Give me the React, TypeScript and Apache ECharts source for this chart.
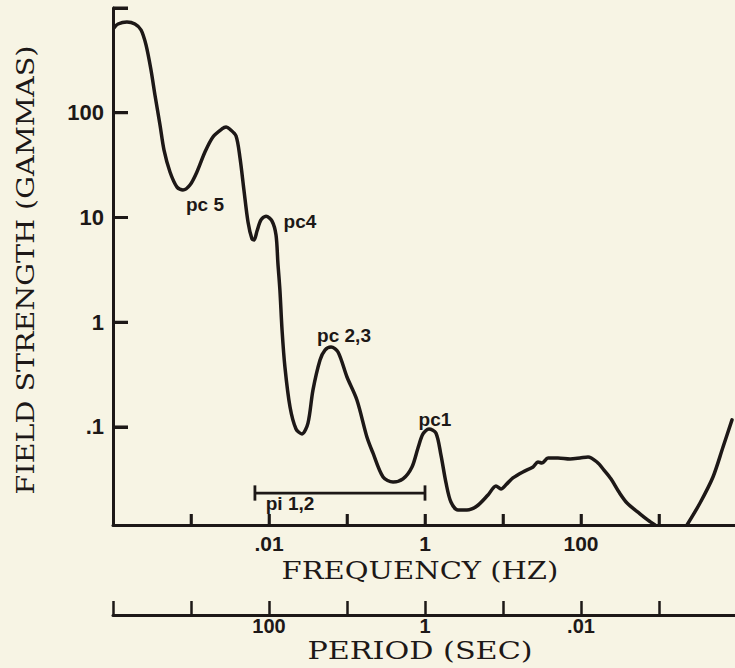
import React, { useEffect, useRef } from "react";
import * as echarts from "echarts";

// Main spectrum curve (frequency in Hz, field strength in gammas)
const freqHz = [
  1.03e-4, 1.16e-4, 1.51e-4, 1.91e-4, 2.29e-4, 2.65e-4, 3.07e-4, 3.45e-4, 4.01e-4, 4.51e-4,
  5.38e-4, 6.62e-4, 7.89e-4, 9.7e-4, 1.19e-3, 1.51e-3, 1.91e-3, 2.49e-3, 2.82e-3, 3.16e-3, 3.78e-3,
  4.25e-3, 4.77e-3, 5.38e-3, 6.05e-3, 6.43e-3, 7.02e-3, 7.89e-3, 9.16e-3, 1.09e-2, 1.23e-2,
  1.30e-2, 1.38e-2, 1.47e-2, 1.60e-2, 1.86e-2, 2.22e-2, 2.65e-2, 3.16e-2, 3.66e-2, 4.51e-2,
  5.22e-2, 6.24e-2, 7.67e-2, 0.1, 0.134, 0.18, 0.215, 0.29, 0.389, 0.522,
  0.681, 0.813, 0.942, 1.125, 1.38, 1.6, 1.86, 2.15, 2.65, 3.45,
  4.64, 6.42, 8.13, 9.42, 11.2, 13.4, 18.0, 24.3, 28.1, 31.6,
  37.8, 50.7, 72.3, 97, 123, 160, 197, 243, 307, 389,
  570, 722, 889,
];
const fieldGammas = [
  644, 703, 735, 703, 617, 444, 256, 148, 76, 44,
  27.2, 19.5, 18.3, 20.4, 27.2, 42.2, 58.7, 70, 73, 69.5, 60,
  37, 18.3, 9.06, 6.23, 6.1, 7.43, 9.47, 10.3, 9.27, 6.8,
  3.68, 2.03, 0.843, 0.374, 0.155, 0.0957, 0.0857, 0.109, 0.225, 0.436,
  0.543, 0.581, 0.52, 0.3, 0.181, 0.0803, 0.0565, 0.0333, 0.0298, 0.0319,
  0.0415, 0.063, 0.0857, 0.0957, 0.0877, 0.0541, 0.0292, 0.0192, 0.0161, 0.0161,
  0.0176, 0.0224, 0.0273, 0.0256, 0.0286, 0.0326, 0.0372, 0.0415, 0.0463, 0.0453,
  0.0506, 0.0506, 0.0495, 0.0506, 0.0518, 0.0463, 0.0388, 0.0319, 0.0239, 0.0188,
  0.0148, 0.0129, 0.0116,
];

// Rising branch at the high-frequency end
const highFreqHz = [2286, 3357, 4920, 6620, 8630];
const highFieldGammas = [0.0116, 0.0188, 0.0333, 0.0644, 0.117];

// Pi 1,2 band (frequency range) and its level
const piRangeHz = [0.0066, 1];
const piLevel = [0.0234];
const piCap = [0.0198, 0.0277];

// Annotations
const annotationText = ["pc 5", "pc4", "pc 2,3", "pc1", "pi 1,2"];
const annotationFreq = [1.51e-3, 0.0249, 0.0916, 1.34, 0.0186];
const annotationField = [13.2, 9.06, 0.74, 0.117, 0.0184];

// Axis ranges and ticks
const freqRange = [1e-4, 1e4];
const fieldRange = [0.01159, 1000];
const freqTickMarks = [1e-3, 1e-2, 0.1, 1, 10, 100, 1000];
const fieldTickMarks = [0.1, 1, 10, 100, 1000];
const fieldTickValues = [0.1, 1, 10, 100];
const fieldTickLabels = [".1", "1", "10", "100"];
const freqTickValues = [0.01, 1, 100];
const freqTickLabels = [".01", "1", "100"];
const periodTickLabels = ["100", "1", ".01"];

const INK = "#1d1817";
const BG = "#f7f4e4";
const TYPE = "'DejaVu Serif', 'Liberation Serif', serif";
const SANS = "'Liberation Sans', Arial, sans-serif";

// grid geometry (pixels)
const GRID = { left: 113, top: 8, width: 624, height: 517 };
const X_TICK_PX = 11;
const Y_TICK_PX = 15;

function pick(values: number[], labels: string[]) {
  return (v: number) => {
    for (let i = 0; i < values.length; i++) {
      if (Math.abs(Math.log10(v) - Math.log10(values[i])) < 1e-6) return labels[i];
    }
    return "";
  };
}

export default function App() {
  const ref = useRef<HTMLDivElement>(null);
  useEffect(() => {
    if (!ref.current) return;
    const chart = echarts.init(ref.current, null, { renderer: "svg" });
    const lineStyle = { color: INK, width: 3.5, cap: "round", join: "round" };

    // Tick marks drawn as filled rectangles placed through the axes' own scales
    const tickRects = {
      type: "custom",
      z: 6,
      renderItem: (params: any, api: any) => {
        const kind = api.value(2);
        const p = api.coord([api.value(0), api.value(1)]);
        if (kind === 0) {
          return {
            type: "rect",
            shape: { x: p[0] - 1.3, y: p[1] - X_TICK_PX, width: 2.6, height: X_TICK_PX },
            style: { fill: INK },
          };
        }
        return {
          type: "rect",
          shape: { x: p[0], y: p[1] - 1.5, width: Y_TICK_PX, height: 3 },
          style: { fill: INK },
        };
      },
      data: [
        ...freqTickMarks.map((f) => [f, fieldRange[0], 0]),
        ...fieldTickMarks.map((b) => [freqRange[0], b, 1]),
      ],
    };

    const option: any = {
      animation: false,
      backgroundColor: BG,
      grid: { ...GRID, outerBoundsMode: "none" },
      xAxis: [
        {
          type: "log",
          logBase: 10,
          min: freqRange[0],
          max: freqRange[1],
          splitNumber: 8,
          position: "bottom",
          axisLine: { show: true, lineStyle: { color: INK, width: 3 } },
          axisTick: { show: true, inside: true, length: X_TICK_PX, lineStyle: { color: INK, width: 2.5 } },
          axisLabel: {
            formatter: pick(freqTickValues, freqTickLabels),
            fontSize: 21,
            fontWeight: "bold",
            fontFamily: SANS,
            color: INK,
            margin: 8,
          },
          splitLine: { show: false },
        },
        {
          type: "log",
          logBase: 10,
          min: freqRange[0],
          max: freqRange[1],
          splitNumber: 8,
          position: "bottom",
          offset: 90,
          axisLine: { show: true, lineStyle: { color: INK, width: 3 } },
          axisTick: { show: true, inside: true, length: 14, lineStyle: { color: INK, width: 2.5 } },
          axisLabel: {
            formatter: pick(freqTickValues, periodTickLabels),
            fontSize: 20,
            fontWeight: "bold",
            fontFamily: SANS,
            color: INK,
            margin: 1,
          },
          splitLine: { show: false },
        },
      ],
      yAxis: {
        type: "log",
        logBase: 10,
        min: fieldRange[0],
        max: fieldRange[1],
        axisLine: { show: true, lineStyle: { color: INK, width: 3 } },
        axisTick: { show: true, inside: true, length: Y_TICK_PX, lineStyle: { color: INK, width: 3 } },
        axisLabel: {
          formatter: pick(fieldTickValues, fieldTickLabels),
          fontSize: 22,
          fontWeight: "bold",
          fontFamily: SANS,
          color: INK,
          margin: 9,
        },
        splitLine: { show: false },
      },
      graphic: [
        {
          type: "text",
          x: 420,
          y: 570,
          scaleX: 1.21,
          style: {
            text: "FREQUENCY (HZ)",
            fill: INK,
            font: `24px ${TYPE}`,
            textAlign: "center",
            textVerticalAlign: "middle",
          },
        },
        {
          type: "text",
          x: 420,
          y: 651,
          scaleX: 1.26,
          style: {
            text: "PERIOD (SEC)",
            fill: INK,
            font: `24px ${TYPE}`,
            textAlign: "center",
            textVerticalAlign: "middle",
          },
        },
        {
          type: "text",
          x: 26,
          y: 270,
          rotation: Math.PI / 2,
          scaleX: 1.19,
          style: {
            text: "FIELD STRENGTH (GAMMAS)",
            fill: INK,
            font: `24px ${TYPE}`,
            textAlign: "center",
            textVerticalAlign: "middle",
          },
        },
      ],
      series: [
        {
          type: "line",
          data: freqHz.map((f, i) => [f, fieldGammas[i]]),
          showSymbol: false,
          symbol: "none",
          smooth: 0.3,
          lineStyle,
        },
        {
          type: "line",
          data: highFreqHz.map((f, i) => [f, highFieldGammas[i]]),
          showSymbol: false,
          symbol: "none",
          smooth: 0.3,
          lineStyle,
        },
        {
          type: "line",
          data: piRangeHz.map((f) => [f, piLevel[0]]),
          symbol: "none",
          lineStyle: { color: INK, width: 2.8 },
        },
        {
          type: "line",
          data: piCap.map((v) => [piRangeHz[0], v]),
          symbol: "none",
          lineStyle: { color: INK, width: 2.8 },
        },
        {
          type: "line",
          data: piCap.map((v) => [piRangeHz[1], v]),
          symbol: "none",
          lineStyle: { color: INK, width: 2.8 },
        },
        tickRects,
        {
          type: "scatter",
          symbolSize: 2,
          itemStyle: { color: BG, opacity: 0 },
          data: annotationText.map((t, i) => ({ name: t, value: [annotationFreq[i], annotationField[i]] })),
          label: {
            show: true,
            position: [1, 1],
            align: "center",
            verticalAlign: "middle",
            formatter: (p: any) => p.name,
            fontSize: 19,
            fontWeight: "bold",
            fontFamily: SANS,
            color: INK,
            opacity: 1,
          },
          z: 5,
        },
      ],
    };
    chart.setOption(option);
    return () => chart.dispose();
  }, []);
  return (
    <div
      ref={ref}
      style={{ position: "absolute", left: 0, top: 0, width: 735, height: 668, background: BG }}
    />
  );
}
